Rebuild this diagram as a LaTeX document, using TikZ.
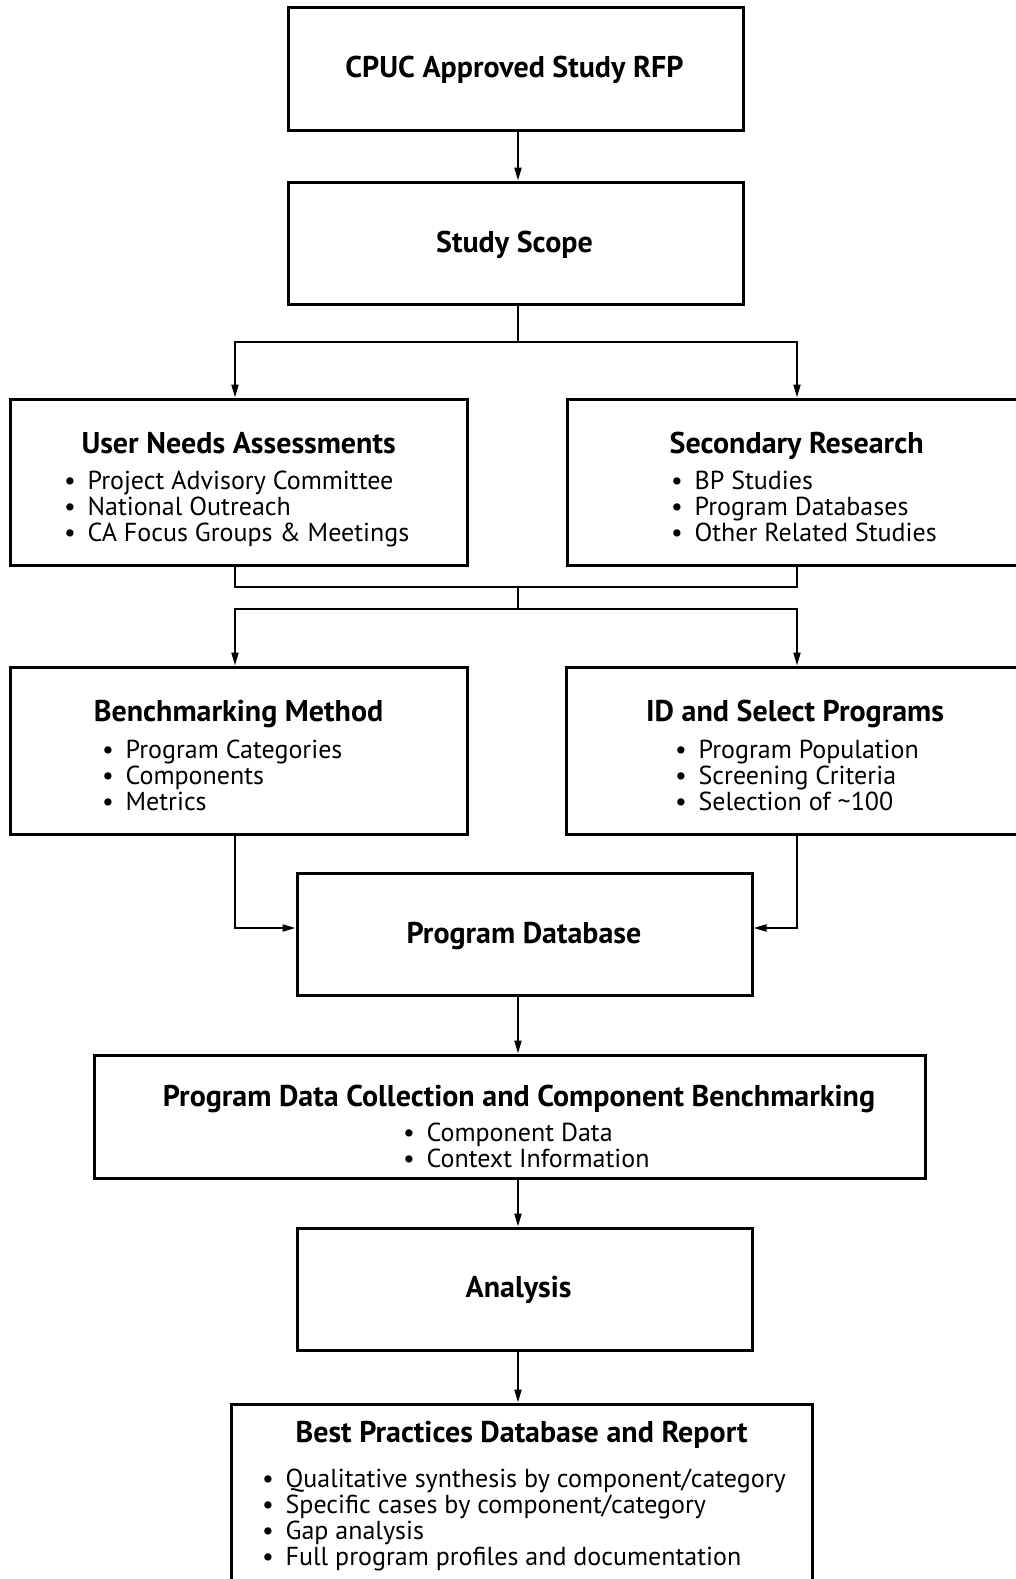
\documentclass[tikz,border=0pt]{standalone}
\usepackage{fontspec}
\setmainfont{PT Sans}
\usetikzlibrary{arrows.meta}
\tikzset{
  box/.style={draw, line width=3pt, inner sep=0pt},
  ttl/.style={font=\fontsize{30}{32}\selectfont\bfseries, inner sep=0pt, text height=21pt, text depth=0pt},
  itemtxt/.style={font=\fontsize{26}{26}\selectfont, inner sep=0pt, text height=18pt, text depth=0pt, anchor=west},
  conn/.style={line width=2pt},
  arr/.style={conn, -{Triangle[length=13pt,width=7pt]}}
}
\newcommand\mkbox[5]{% name x1 y1 x2 y2
  \node[box, minimum width={(#4)-(#2)}, minimum height={(#5)-(#3)}] (#1) at ({((#2)+(#4))/2},{((#3)+(#5))/2}) {};}
\newcommand\blist[4]{% name x ytop-center list
  \foreach \t [count=\i] in {#4} {\node[itemtxt] (#1-\i) at (#2,{#3+26*(\i-1)}) {\textbullet\hspace{0.45em}\t};}}
\begin{document}
\begin{tikzpicture}[x=1pt,y=-1pt]
\path[use as bounding box, clip] (0,0) rectangle (1016,1579);
\fill[white] (0,0) rectangle (1016,1579);
% boxes
\mkbox{cpuc}{288}{8}{743}{130}
\mkbox{scope}{288}{182}{743}{304}
\mkbox{una}{10}{399}{467}{565}
\mkbox{sr}{567}{399}{1040}{565}
\mkbox{bm}{10}{667}{467}{834}
\mkbox{ids}{566}{667}{1040}{834}
\mkbox{pd}{297}{873}{752}{995}
\mkbox{pdc}{94}{1055}{925}{1178}
\mkbox{ana}{297}{1228}{752}{1350}
\mkbox{bp}{231}{1404}{812}{1620}
% titles
\node[ttl] (cpuct) at (514.5,67) {CPUC Approved Study RFP};
\node[ttl] (scopet) at (514.5,242) {Study Scope};
\node[ttl] (unat) at (238.6,443) {User Needs Assessments};
\node[ttl] (srt) at (796.6,443) {Secondary Research};
\node[ttl] (bmt) at (238.6,711) {Benchmarking Method};
\node[ttl] (idst) at (795,711) {ID and Select Programs};
\node[ttl] (pdt) at (524,933) {Program Database};
\node[ttl] (pdct) at (519,1096) {Program Data Collection and Component Benchmarking};
\node[ttl] (anat) at (518.6,1287) {Analysis};
\node[ttl] (bpt) at (521.6,1432) {Best Practices Database and Report};
% bullet lists
\blist{unal}{64}{480}{Project Advisory Committee, National Outreach, CA Focus Groups \& Meetings}
\blist{srl}{671}{480}{BP Studies, Program Databases, Other Related Studies}
\blist{bml}{102}{749}{Program Categories, Components, Metrics}
\blist{idsl}{675}{749}{Program Population, Screening Criteria, Selection of \textasciitilde100}
\blist{pdcl}{403}{1132}{Component Data, Context Information}
\blist{bpl}{262}{1478}{Qualitative synthesis by component/category, Specific cases by component/category, Gap analysis, Full program profiles and documentation}
% junction coordinates
\coordinate (cx) at (518,0);
\coordinate (jl) at (235,342);
\coordinate (jr) at (797,342);
\coordinate (ml) at (235,587);
\coordinate (mr) at (797,587);
\coordinate (mm) at (518,587);
\coordinate (nm) at (518,609);
\coordinate (nl) at (235,609);
\coordinate (nr) at (797,609);
\coordinate (pl) at (235,928);
\coordinate (pr) at (797,928);
% connectors
\draw[arr] (cpuc.south -| cx) -- (scope.north -| cx);
\draw[arr] (scope.south -| cx) |- (jl) -- (jl |- una.north);
\draw[arr] (scope.south -| cx) |- (jr) -- (jr |- sr.north);
\draw[conn] (una.south -| ml) -- (ml) -- (mr) -- (sr.south -| mr);
\draw[conn] (mm) -- (nm);
\draw[arr] (nm) -| (bm.north -| nl);
\draw[arr] (nm) -| (ids.north -| nr);
\draw[arr] (bm.south -| pl) -- (pl) -- (pl -| pd.west);
\draw[arr] (ids.south -| pr) -- (pr) -- (pr -| pd.east);
\draw[arr] (pd.south -| cx) -- (pdc.north -| cx);
\draw[arr] (pdc.south -| cx) -- (ana.north -| cx);
\draw[arr] (ana.south -| cx) -- (bp.north -| cx);
\end{tikzpicture}
\end{document}
